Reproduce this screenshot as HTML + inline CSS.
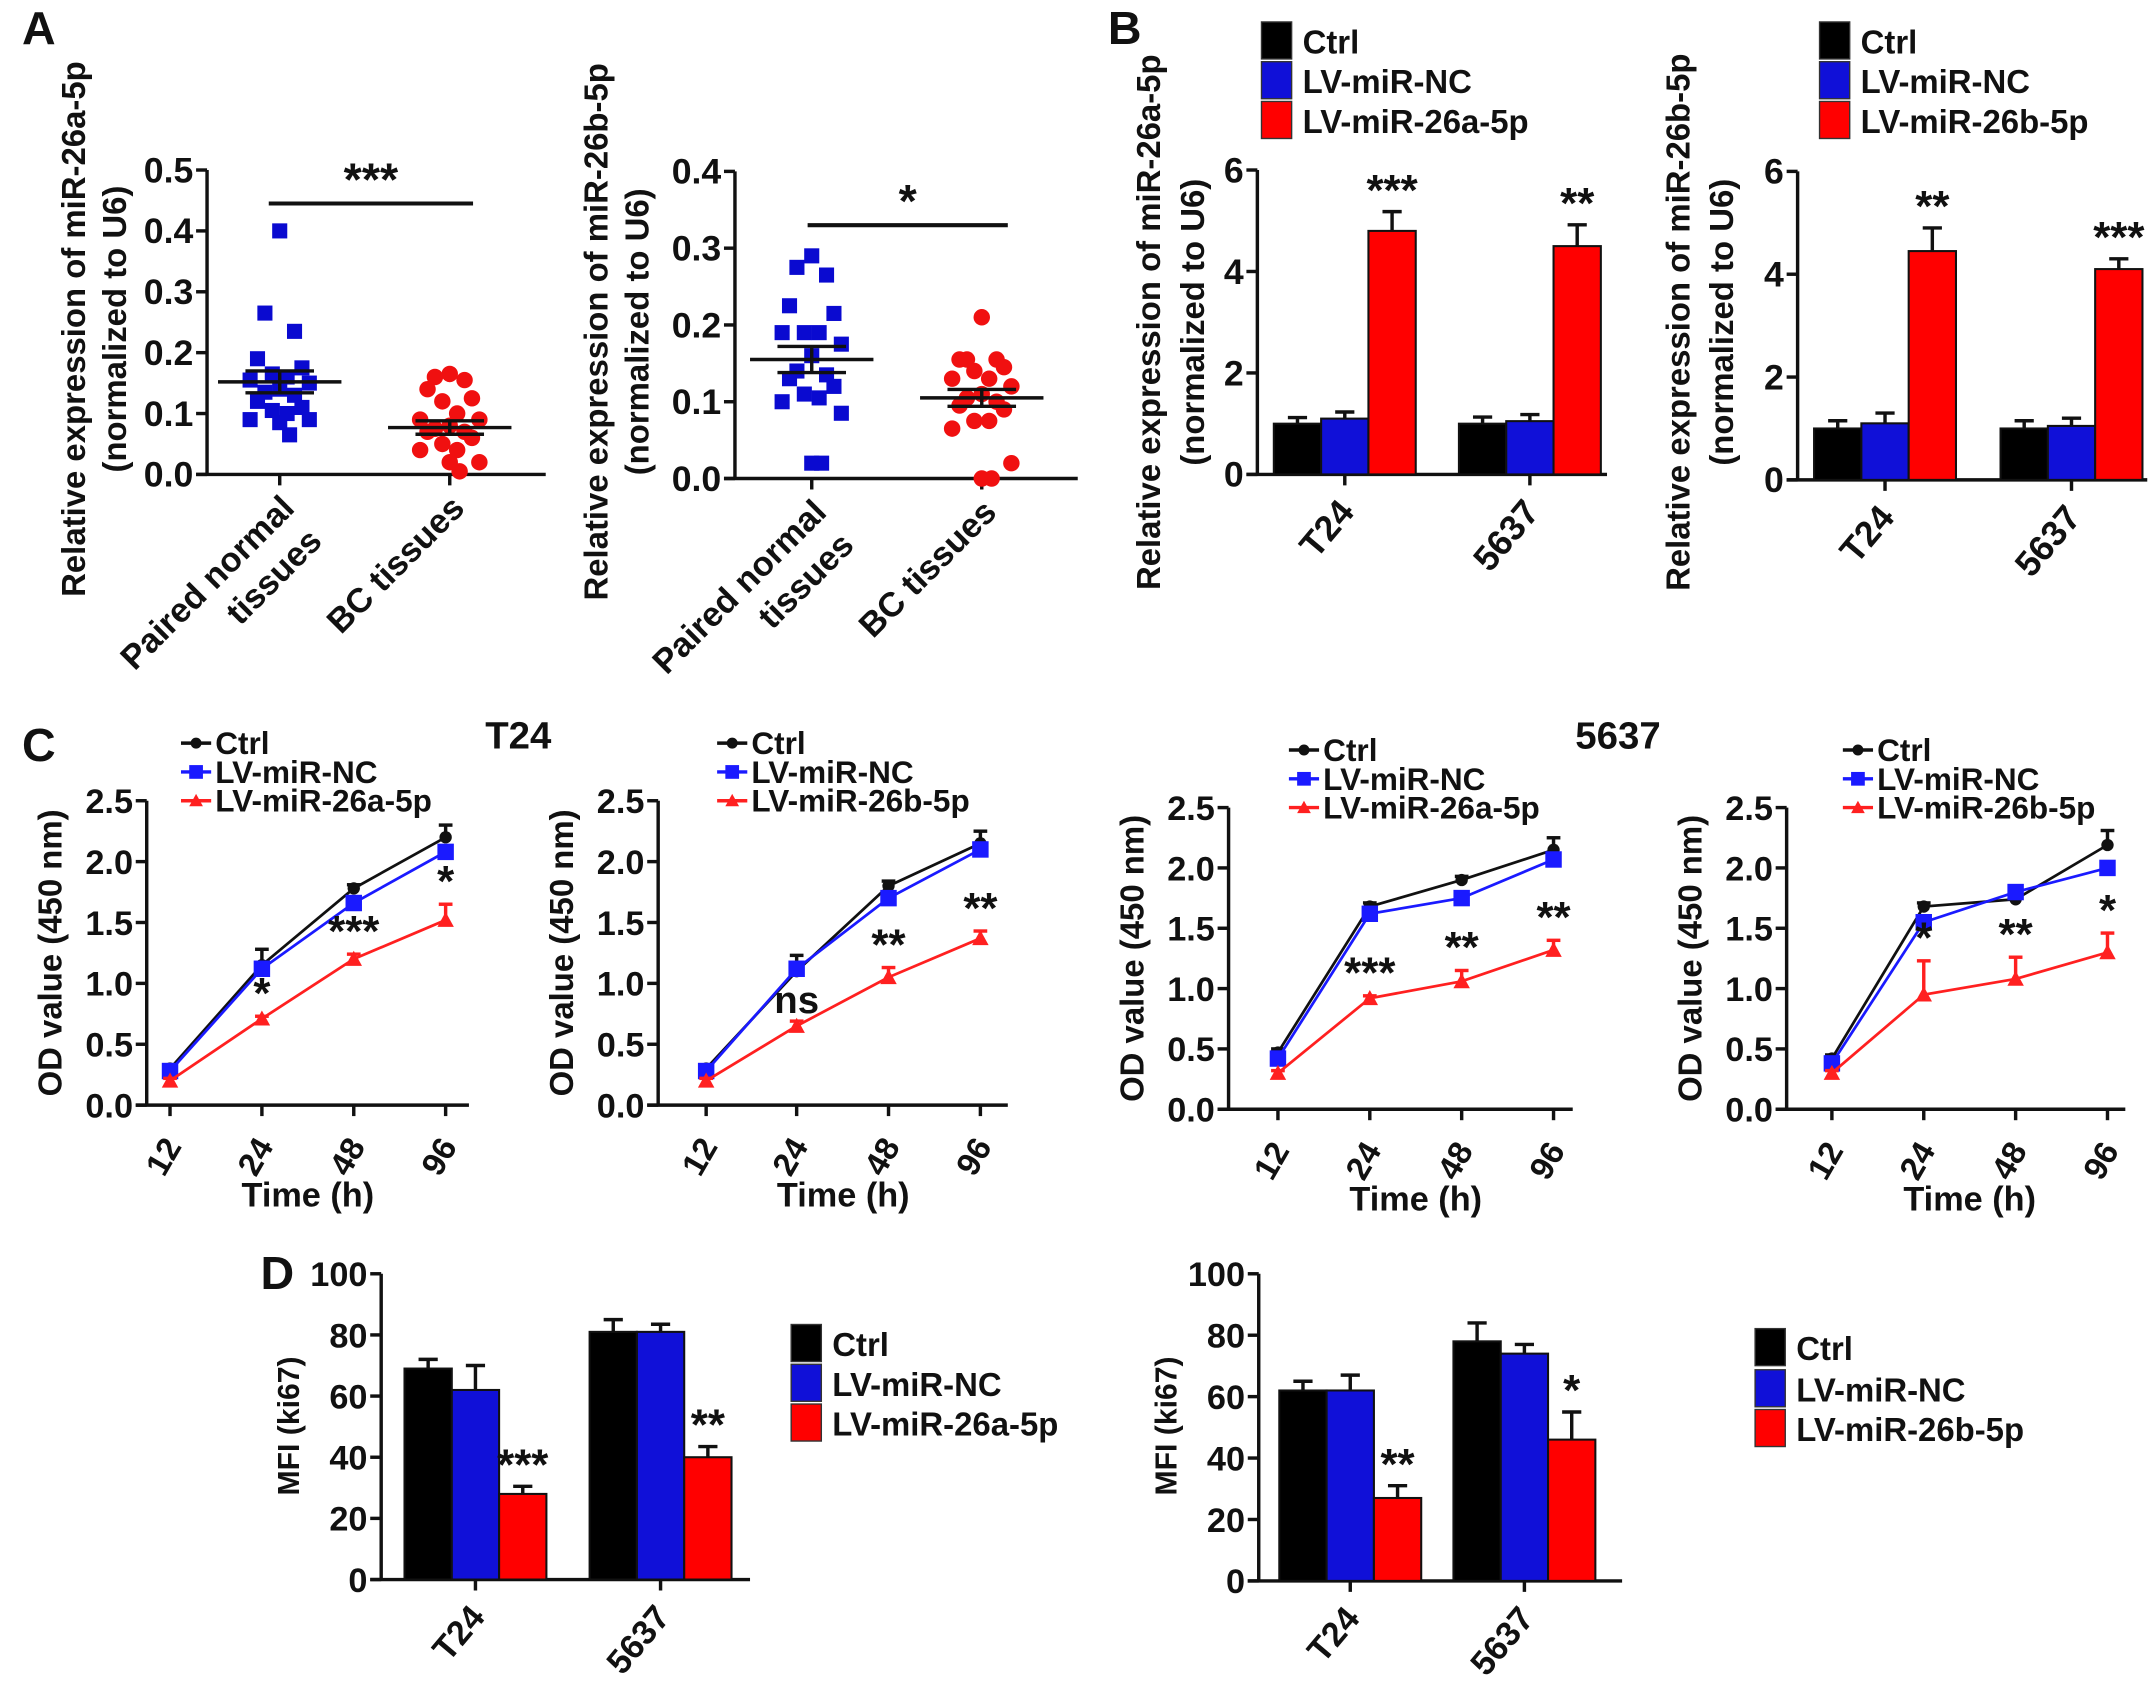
<!DOCTYPE html>
<html><head><meta charset="utf-8"><style>
html,body{margin:0;padding:0;background:#fff}
svg{display:block}
text{font-family:"Liberation Sans",Arial,sans-serif;font-weight:bold;fill:#111}
</style></head><body>
<svg id="fig" width="2150" height="1681" viewBox="0 0 1568 1226" preserveAspectRatio="none" xmlns="http://www.w3.org/2000/svg"></svg>
<script>
// ---- Panel A data ----
const aLeftNormal=[0.40,0.265,0.235,0.19,0.175,0.165,0.16,0.155,0.15,0.14,0.135,0.13,0.12,0.11,0.105,0.10,0.09,0.09,0.085,0.065];
const aLeftBC=[0.165,0.16,0.155,0.14,0.125,0.12,0.10,0.09,0.09,0.08,0.075,0.07,0.07,0.06,0.05,0.04,0.04,0.02,0.02,0.005];
const aLeftMean=[0.152,0.077];
const aLeftSem=[0.018,0.011];
const aRightNormal=[0.29,0.275,0.265,0.225,0.215,0.19,0.19,0.19,0.175,0.16,0.14,0.135,0.13,0.12,0.11,0.105,0.10,0.085,0.02,0.02];
const aRightBC=[0.21,0.155,0.155,0.155,0.145,0.14,0.13,0.13,0.12,0.11,0.105,0.10,0.095,0.09,0.075,0.075,0.065,0.02,0.0,0.0];
const aRightMean=[0.155,0.105];
const aRightSem=[0.017,0.011];
const aCats=["Paired normal|tissues","BC tissues"];
// ---- Panel B data ----
const bGroups=["T24","5637"];
const bLeftVals=[[1.0,1.1,4.8],[1.0,1.05,4.5]];
const bLeftErr=[[0.12,0.13,0.38],[0.13,0.13,0.42]];
const bLeftStars=["***","**"];
const bRightVals=[[1.0,1.1,4.45],[1.0,1.05,4.1]];
const bRightErr=[[0.15,0.2,0.45],[0.15,0.15,0.2]];
const bRightStars=["**","***"];
// ---- Panel C data ----
const cTimes=["12","24","48","96"];
const c1Ctrl=[0.30,1.15,1.78,2.20], c1NC=[0.28,1.12,1.66,2.08], c1Lv=[0.20,0.71,1.20,1.52];
const c1CtrlErr=[0.02,0.13,0.03,0.1], c1LvErr=[0.02,0.02,0.04,0.13];
const c1Stars=["","*","***","*"];
const c2Ctrl=[0.30,1.10,1.80,2.15], c2NC=[0.28,1.12,1.70,2.10], c2Lv=[0.20,0.65,1.05,1.37];
const c2CtrlErr=[0.02,0.13,0.04,0.1], c2LvErr=[0.02,0.04,0.08,0.06];
const c2Stars=["","ns","**","**"];
const c3Ctrl=[0.47,1.68,1.90,2.15], c3NC=[0.42,1.62,1.75,2.07], c3Lv=[0.30,0.92,1.06,1.32];
const c3CtrlErr=[0.03,0.03,0.03,0.1], c3LvErr=[0.02,0.02,0.09,0.08];
const c3Stars=["","***","**","**"];
const c4Ctrl=[0.42,1.68,1.74,2.19], c4NC=[0.38,1.55,1.80,2.00], c4Lv=[0.30,0.95,1.08,1.30];
const c4CtrlErr=[0.03,0.03,0.03,0.12], c4LvErr=[0.02,0.28,0.18,0.16];
const c4Stars=["","*","**","*"];
const cTicks=["0.0","0.5","1.0","1.5","2.0","2.5"];
// ---- Panel D data ----
const dLeftVals=[[69,62,28],[81,81,40]];
const dLeftErr=[[3,8,2.5],[4,2.5,3.5]];
const dLeftStars=["***","**"];
const dRightVals=[[62,62,27],[78,74,46]];
const dRightErr=[[3,5,4],[6,3,9]];
const dRightStars=["**","*"];
const dTicks=["0","20","40","60","80","100"];

const NS="http://www.w3.org/2000/svg";
const svg=document.getElementById('fig');
function el(tag,attrs,parent){const e=document.createElementNS(NS,tag);for(const k in attrs)e.setAttribute(k,attrs[k]);(parent||svg).appendChild(e);return e;}
function txt(s,x,y,size,opts,parent){opts=opts||{};const t=el('text',{x:x,y:y,'font-size':size,'text-anchor':opts.anchor||'middle'},parent);
 if(opts.rot)t.setAttribute('transform','rotate('+opts.rot+' '+x+' '+y+')');if(opts.fill)t.setAttribute('fill',opts.fill);if(opts.weight)t.setAttribute('font-weight',opts.weight);t.textContent=s;return t;}
function line(x1,y1,x2,y2,stroke,w,parent){return el('line',{x1:x1,y1:y1,x2:x2,y2:y2,stroke:stroke||'#111','stroke-width':w||2.5},parent);}

function yAxis(g,x,y0,y1,x1,ticks,vmax,fs){
  line(x,y0,x,y1,'#111',2.5,g);line(x-8,y0,x1,y0,'#111',2.5,g);
  ticks.forEach((t,i)=>{const y=y0-(y0-y1)*i/(ticks.length-1);line(x-8,y,x,y,'#111',2.5,g);
   const tt=txt(t,x-10,y+9,fs||25,{anchor:'end'},g);});
}

// Panel letters
[['A',16,32],['B',808,32],['C',16,555],['D',190,940]].forEach(p=>{const t=txt(p[0],p[1],p[2],34,{anchor:'start'});});

// ---- scatter panels ----
const jit=[0,-12,12,-18,18,-6,6,-24,24,0,-12,12,-18,18,-6,6,-24,24,0,8];
function scatter(name,ax,yTop,yBot,vmax,ticks,cx,normal,bc,mean,sem,sig,sigStar,ylab1,ylab2,ylx){
  const g=el('g',{});
  const ys=v=>yBot-(yBot-yTop)*v/vmax;
  yAxis(g,ax,yBot,yTop,cx[1]+70,ticks,vmax,26);
  cx.forEach(x=>line(x,yBot,x,yBot+8,'#111',2.5,g));
  normal.forEach((v,i)=>{const r=el('rect',{x:cx[0]+jit[i]*0.9-5.5,y:ys(v)-5.5,width:11,height:11,fill:'#0a0ad0'},g);});
  bc.forEach((v,i)=>{const c=el('circle',{cx:cx[1]+jit[i]*0.9,cy:ys(v),r:6,fill:'#f01010'},g);});
  [0,1].forEach(k=>{const m=ys(mean[k]);line(cx[k]-45,m,cx[k]+45,m,'#111',2.5,g);
    line(cx[k]-25,ys(mean[k]+sem[k]),cx[k]+25,ys(mean[k]+sem[k]),'#111',2.5,g);line(cx[k]-25,ys(mean[k]-sem[k]),cx[k]+25,ys(mean[k]-sem[k]),'#111',2.5,g);line(cx[k],ys(mean[k]+sem[k]),cx[k],ys(mean[k]-sem[k]),'#111',2.5,g);});
  line(sig[0],ys(sig[2]),sig[1],ys(sig[2]),'#111',3,g);
  const st=txt(sigStar,(sig[0]+sig[1])/2,ys(sig[2])-6,34,{},g);
  aCats.forEach((c,k)=>{const parts=c.split('|');const x=cx[k]+14,y=yBot+26;
    parts.forEach((p,j)=>{const t=txt(p,x+j*20-2,y+j*24,25,{anchor:'end',rot:-45},g);});});
  const l1=txt(ylab1,ylx,(yTop+yBot)/2+5,24,{rot:-90},g);
  const l2=txt(ylab2,ylx+30,(yTop+yBot)/2+5,24,{rot:-90},g);
}
scatter('scatter-mir26a',151,124,346,0.5,["0.0","0.1","0.2","0.3","0.4","0.5"],[204,328],aLeftNormal,aLeftBC,aLeftMean,aLeftSem,[196,345,0.445],'***','Relative expression of miR-26a-5p','(normalized to U6)',62);
scatter('scatter-mir26b',536,125,349,0.4,["0.0","0.1","0.2","0.3","0.4"],[592,716],aRightNormal,aRightBC,aRightMean,aRightSem,[589,735,0.33],'*','Relative expression of miR-26b-5p','(normalized to U6)',443);

// ---- bar charts ----
const barColors=['#000','#1010d8','#f00'];
function bars(name,ax,yTop,yBot,vmax,ticks,groupX,bw,vals,errs,stars,xEnd,fs){
  const g=el('g',{});
  const ys=v=>yBot-(yBot-yTop)*v/vmax;
  yAxis(g,ax,yBot,yTop,xEnd,ticks,vmax,fs);
  vals.forEach((grp,gi)=>{
    grp.forEach((v,bi)=>{const x=groupX[gi]+bi*bw;
      line(x+bw/2,ys(v),x+bw/2,ys(v+errs[gi][bi]),'#111',2.5,g);line(x+bw/2-7,ys(v+errs[gi][bi]),x+bw/2+7,ys(v+errs[gi][bi]),'#111',2.5,g);
      const r=el('rect',{x:x,y:ys(v),width:bw,height:yBot-ys(v),fill:barColors[bi],stroke:'#111','stroke-width':1.5},g);
      });
    const rx=groupX[gi]+2.5*bw, top=vals[gi][2]+errs[gi][2];
    const st=txt(stars[gi],rx,ys(top)-5,32,{},g);
    const cx=groupX[gi]+1.5*bw;line(cx,yBot,cx,yBot+8,'#111',2.5,g);
    const t=txt(bGroups[gi],cx+8,yBot+28,fs,{anchor:'end',rot:-50},g);
  });
  return g;
}
function legendBox(name,x,ys,labels,fs){
  const g=el('g',{});
  labels.forEach((l,i)=>{const r=el('rect',{x:x,y:ys[i]-14,width:22,height:27,fill:barColors[i],stroke:'#333','stroke-width':1},g);
    const t=txt(l,x+30,ys[i]+9,fs,{anchor:'start'},g);});
}
bars('bar-chart-b-left',917,124,346,6,["0","2","4","6"],[929,1064],34.5,bLeftVals,bLeftErr,bLeftStars,1172,26);
legendBox('legend-b-left',920,[30,59,88],['Ctrl','LV-miR-NC','LV-miR-26a-5p'],24);
[[846,'Relative expression of miR-26a-5p'],[878,'(normalized to U6)']].forEach(p=>{const t=txt(p[1],p[0],235,24,{rot:-90});});
bars('bar-chart-b-right',1311,125,350,6,["0","2","4","6"],[1323,1459],34.5,bRightVals,bRightErr,bRightStars,1566,26);
legendBox('legend-b-right',1327,[30,59,88],['Ctrl','LV-miR-NC','LV-miR-26b-5p'],24);
[[1232,'Relative expression of miR-26b-5p'],[1264,'(normalized to U6)']].forEach(p=>{const t=txt(p[1],p[0],235,24,{rot:-90});});

bars('bar-chart-d-left',278,929,1152,100,dTicks,[295,430],34.5,dLeftVals,dLeftErr,dLeftStars,547,25);
legendBox('legend-d-left',577,[980,1009,1038],['Ctrl','LV-miR-NC','LV-miR-26a-5p'],24);
{const t=txt('MFI (ki67)',218,1040,22,{rot:-90});}
bars('bar-chart-d-right',918,929,1153,100,dTicks,[933,1060],34.5,dRightVals,dRightErr,dRightStars,1183,25);
legendBox('legend-d-right',1280,[983,1013,1042],['Ctrl','LV-miR-NC','LV-miR-26b-5p'],24);
{const t=txt('MFI (ki67)',858,1040,22,{rot:-90});}

// ---- line charts ----
function lineChart(name,ax,yTop,yBot,xs,xEnd,ctrl,nc,lv,ctrlErr,lvErr,stars,lvLabel){
  const g=el('g',{});
  const ys=v=>yBot-(yBot-yTop)*v/2.5;
  yAxis(g,ax,yBot,yTop,xEnd,cTicks,2.5,25);
  xs.forEach((x,i)=>{line(x,yBot,x,yBot+8,'#111',2.5,g);const t=txt(cTimes[i],x+9,yBot+30,24,{anchor:'end',rot:-60},g);});
  const xt=txt('Time (h)',(xs[0]+xs[3])/2,yBot+74,25,{},g);
  const yt=txt('OD value (450 nm)',ax-62,(yTop+yBot)/2,24,{rot:-90},g);
  const series=[[ctrl,'#111','circle',ctrlErr,'ctrl'],[nc,'#1a1aff','square',null,'nc'],[lv,'#ff2020','tri',lvErr,'lv']];
  series.forEach(s=>{
    const pts=s[0].map((v,i)=>xs[i]+','+ys(v)).join(' ');
    const pl=el('polyline',{points:pts,fill:'none',stroke:s[1],'stroke-width':2},g);
    s[0].forEach((v,i)=>{
      if(s[3]){const e=s[3][i];line(xs[i],ys(v),xs[i],ys(v+e),s[1],2.5,g);line(xs[i]-5,ys(v+e),xs[i]+5,ys(v+e),s[1],2.5,g);}
      let m;
      if(s[2]=='circle')m=el('circle',{cx:xs[i],cy:ys(v),r:4.5,fill:s[1]},g);
      else if(s[2]=='square')m=el('rect',{x:xs[i]-6,y:ys(v)-6,width:12,height:12,fill:s[1]},g);
      else m=el('polygon',{points:(xs[i])+','+(ys(v)-6)+' '+(xs[i]-6)+','+(ys(v)+5)+' '+(xs[i]+6)+','+(ys(v)+5),fill:s[1]},g);
      
    });
  });
  stars.forEach((s,i)=>{if(!s)return;const top=lv[i]+lvErr[i];const big=s=='ns'?28:32;
    const t=txt(s,xs[i],ys(top)-(s=='ns'?6:6),big,{weight:s=='ns'?'normal':'bold'},g);});
  const lx=xs[0]+8, ly=[yTop-42,yTop-21,yTop];
  const labs=['Ctrl','LV-miR-NC',lvLabel];
  series.forEach((s,i)=>{line(lx,ly[i],lx+22,ly[i],s[1],2.5,g);
    let m;if(i==0)m=el('circle',{cx:lx+11,cy:ly[i],r:4,fill:s[1]},g);else if(i==1)m=el('rect',{x:lx+6,y:ly[i]-5,width:10,height:10,fill:s[1]},g);else m=el('polygon',{points:(lx+11)+','+(ly[i]-5)+' '+(lx+6)+','+(ly[i]+4)+' '+(lx+16)+','+(ly[i]+4),fill:s[1]},g);
    
    const t=txt(labs[i],lx+25,ly[i]+8,23,{anchor:'start'},g);});
}
lineChart('line-chart-t24-26a',107,584,806,[124,191,258,325],342,c1Ctrl,c1NC,c1Lv,c1CtrlErr,c1LvErr,c1Stars,'LV-miR-26a-5p');
lineChart('line-chart-t24-26b',480,584,806,[515,581,648,715],735,c2Ctrl,c2NC,c2Lv,c2CtrlErr,c2LvErr,c2Stars,'LV-miR-26b-5p');
lineChart('line-chart-5637-26a',896,589,809,[932,999,1066,1133],1147,c3Ctrl,c3NC,c3Lv,c3CtrlErr,c3LvErr,c3Stars,'LV-miR-26a-5p');
lineChart('line-chart-5637-26b',1303,589,809,[1336,1403,1470,1537],1550,c4Ctrl,c4NC,c4Lv,c4CtrlErr,c4LvErr,c4Stars,'LV-miR-26b-5p');
{const t=txt('T24',378,546,28,{weight:'normal'});}
{const t=txt('5637',1180,546,28,{weight:'normal'});}
</script>
</body></html>
